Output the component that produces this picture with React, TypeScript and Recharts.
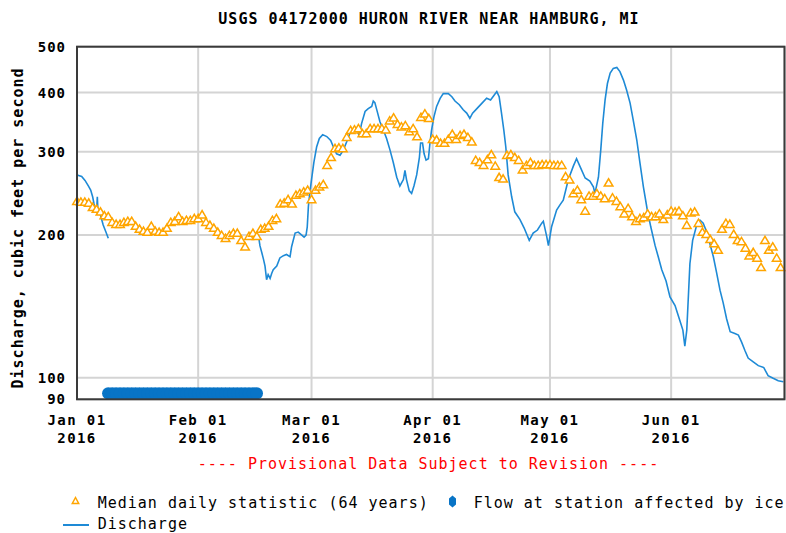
import React from 'react';
import { ComposedChart, Line, Scatter, XAxis, YAxis, CartesianGrid } from 'recharts';

const MONO = '"DejaVu Sans Mono", "Liberation Mono", monospace';

// Median daily statistic (64 years), one value per day starting Jan 01 (day 0)
const medianValues = [
  236, 235, 235, 234, 229, 227, 224, 220, 219, 213,
  211, 211, 213, 214, 214, 209, 206, 204, 203, 209,
  204, 203, 203, 207, 213, 214, 219, 214, 215, 215,
  217, 217, 221, 213, 210, 207, 203, 200, 197, 200,
  202, 202, 195, 189, 199, 202, 199, 206, 207, 209,
  215, 217, 233, 234, 238, 233, 243, 245, 247, 249,
  238, 249, 253, 256, 281, 292, 305, 306, 305, 322,
  333, 334, 336, 328, 328, 336, 336, 336, 336, 334,
  349, 354, 343, 339, 341, 331, 336, 323, 355, 361,
  353, 319, 318, 313, 313, 319, 327, 319, 325, 327,
  322, 315, 288, 285, 281, 289, 296, 280, 265, 263,
  295, 296, 292, 288, 275, 281, 285, 281, 281, 282,
  282, 282, 281, 281, 281, 266, 262, 245, 249, 238,
  225, 242, 242, 245, 242, 239, 258, 240, 236, 230,
  222, 228, 219, 214, 217, 218, 222, 219, 219, 222,
  216, 221, 225, 224, 225, 220, 210, 223, 224, 212,
  203, 201, 196, 192, 186, 206, 212, 211, 201, 195,
  194, 188, 181, 184, 179, 171, 195, 186, 189, 179,
  171,
];

// Discharge (cfs): days since Jan 01 and values; null marks the ice gap
const dischargeDays = [
  0, 1.2, 2.05, 2.9, 3.5, 4.0, 4.35, 4.86, 5.05, 5.2, 5.35, 5.9, 6.3, 6.7, 7.4, 8.0,
  27,
  46.4, 46.8, 47.25, 47.7, 48.1, 48.5, 48.9, 49.4, 49.8, 50.2, 51.1, 51.9, 52.8, 53.6,
  54.5, 54.9, 55.8, 56.6, 57.5, 58.1, 58.6, 58.9, 59.2, 59.6, 60.0, 60.6, 61.3, 62.0,
  62.85, 63.9, 64.9, 65.6, 66.4, 67.3, 68.1, 69.0, 69.8, 70.7, 71.55, 72.2, 72.8, 73.7,
  74.5, 75.4, 75.8, 76.2, 76.8, 77.5, 78.4, 79.2, 80.1, 80.9, 81.8, 82.6, 83.5, 83.9,
  84.3, 85.0, 85.6, 86.2, 86.9, 87.6, 87.9, 88.4, 88.8, 89.3, 89.9, 90.3, 90.7, 91.3,
  92.0, 92.9, 93.7, 95.0, 95.9, 96.7, 97.8, 98.8, 99.7, 100.5, 101.2, 102.3, 103.5,
  104.8, 105.8, 106.7, 107.4, 108.0, 108.6, 109.2, 109.7, 110.3, 111.2, 112.0, 113.3,
  114.4, 115.7, 116.7, 117.8, 118.9, 119.3, 120.2, 120.6, 121.4, 122.7, 123.6, 124.4,
  125.7, 127.0, 127.8, 128.7, 130.0, 131.2, 132.1, 132.5, 133.4, 134.0, 134.5, 135.1,
  135.7, 136.4, 137.2, 138.1, 138.9, 139.8, 140.6, 141.5, 142.3, 143.2, 144.0, 144.9,
  145.9, 146.8, 147.9, 148.7, 149.6, 150.7, 151.7, 153.0, 154.1, 155.0, 155.5, 156.0,
  156.4, 156.8, 157.5, 158.4, 159.4, 160.2, 161.1, 161.9, 162.8, 163.6, 164.5, 165.3,
  166.2, 167.1, 168.3, 169.2, 170.0, 170.9, 171.7, 173.0, 174.3, 175.7, 176.8, 178.1,
  179.4, 180.7,
];
const dischargeValues: (number | null)[] = [
  268, 266, 261, 254, 249, 241, 233, 226, 228, 241, 226, 222, 216, 210, 203, 197,
  null,
  200, 190, 184, 178, 172, 161, 165, 162, 166, 169, 172, 179, 181, 182,
  180, 189, 202, 203, 200, 198, 200, 208, 230, 247, 262, 285, 307, 320,
  326, 323, 317, 307, 297, 295, 302, 315, 328, 334, 333, 325, 344, 365,
  370, 374, 384, 381, 365, 347, 333, 320, 302, 285, 265, 254, 262, 274,
  262, 248, 245, 254, 268, 292, 313, 313, 297, 288, 290, 313, 333, 355,
  374, 389, 398, 398, 392, 384, 377, 368, 362, 353, 362, 370, 379,
  389, 386, 395, 402, 392, 362, 333, 307, 268, 241, 224, 216,
  207, 195, 202, 205, 212, 214, 198, 190, 208, 226, 232, 237,
  262, 280, 290, 279, 264, 260, 253, 245, 265, 303, 344, 386,
  418, 440, 450, 452, 443, 425, 405, 380, 350, 318, 285, 253,
  226, 208, 190, 180, 169, 160, 148, 142, 133, 126, 116.5, 126,
  148, 174, 195, 208, 215, 212, 203, 192, 180, 167, 153, 144,
  133, 125, 124, 123, 119, 114, 110, 108, 106, 105, 101, 99.7,
  98.5, 98,
];

// Days flagged "Flow at station affected by ice"
const iceDays = [
  8, 9, 10, 11, 12, 13, 14, 15, 16, 17, 18, 19, 20, 21, 22, 23, 24, 25, 26,
  27, 28, 29, 30, 31, 32, 33, 34, 35, 36, 37, 38, 39, 40, 41, 42, 43, 44, 45, 46,
];
const iceValue = 92.6;

const xTickDays = [0, 31, 60, 91, 121, 152];
const xTickMonths = ['Jan 01', 'Feb 01', 'Mar 01', 'Apr 01', 'May 01', 'Jun 01'];
const xTickYears = ['2016', '2016', '2016', '2016', '2016', '2016'];
const yTicks = [90, 100, 200, 300, 400, 500];

const TITLE = 'USGS 04172000 HURON RIVER NEAR HAMBURG, MI';
const Y_LABEL = 'Discharge, cubic feet per second';
const NOTE = '---- Provisional Data Subject to Revision ----';
const LEG_MEDIAN = 'Median daily statistic (64 years)';
const LEG_ICE = 'Flow at station affected by ice';
const LEG_Q = 'Discharge';

const ORANGE = '#FFA500';
const BLUE = '#1E8AD6';
const ICE = '#0874C6';

const medianData = medianValues.map((v, i) => ({ day: i, median: v }));
const dischargeData = dischargeDays.map((d, i) => ({ day: d, q: dischargeValues[i] }));
const iceData = iceDays.map((d) => ({ day: d, ice: iceValue }));

const Triangle = (props: any) => {
  const { cx, cy } = props;
  if (cx == null || cy == null) return null;
  return (
    <polygon
      points={`${cx},${cy - 4} ${cx - 4.3},${cy + 3.3} ${cx + 4.3},${cy + 3.3}`}
      fill="#fff"
      stroke={ORANGE}
      strokeWidth={1.5}
    />
  );
};

const IceDot = (props: any) => {
  const { cx, cy } = props;
  if (cx == null || cy == null) return null;
  return <circle cx={cx} cy={cy} r={6.2} fill={ICE} />;
};

const YTick = (props: any) => {
  const { y, payload } = props;
  return (
    <text x={66} y={y + 5} textAnchor="end" fontFamily={MONO} fontWeight="bold" fontSize={14} letterSpacing={1} fill="#000">
      {payload.value}
    </text>
  );
};

const XTick = (props: any) => {
  const { x, payload } = props;
  const idx = xTickDays.indexOf(payload.value);
  if (idx < 0) return null;
  return (
    <g>
      <text x={x} y={425} textAnchor="middle" fontFamily={MONO} fontWeight="bold" fontSize={14} letterSpacing={1.4} fill="#000">
        {xTickMonths[idx]}
      </text>
      <text x={x} y={443} textAnchor="middle" fontFamily={MONO} fontWeight="bold" fontSize={14} letterSpacing={1.4} fill="#000">
        {xTickYears[idx]}
      </text>
    </g>
  );
};

export default function App() {
  return (
    <div style={{ position: 'absolute', left: 0, top: 0, width: 786, height: 533, background: '#fff', overflow: 'hidden' }}>
      <ComposedChart
        width={786}
        height={533}
        margin={{ top: 46.7, right: 1.5, bottom: 73.7, left: 0 }}
      >
        <CartesianGrid stroke="#d4d4d4" strokeWidth={2} />
        <XAxis
          type="number"
          dataKey="day"
          domain={[0, 181]}
          ticks={xTickDays}
          height={60}
          axisLine={false}
          tickLine={false}
          tick={<XTick />}
          interval={0}
        />
        <YAxis
          type="number"
          scale="log"
          domain={[90, 500]}
          ticks={yTicks}
          width={77}
          axisLine={false}
          tickLine={false}
          tick={<YTick />}
          interval={0}
          allowDataOverflow
        />
        <Scatter data={iceData} dataKey="ice" shape={<IceDot />} isAnimationActive={false} />
        <Line
          data={dischargeData}
          dataKey="q"
          type="linear"
          stroke={BLUE}
          strokeWidth={1.6}
          dot={false}
          activeDot={false}
          connectNulls={false}
          isAnimationActive={false}
        />
        <Scatter data={medianData} dataKey="median" shape={<Triangle />} isAnimationActive={false} />
      </ComposedChart>
      <svg width={786} height={533} style={{ position: 'absolute', left: 0, top: 0, pointerEvents: 'none' }}>
        <rect x={77} y={46.7} width={707.5} height={352.6} fill="none" stroke="#3a3a3a" strokeWidth={2} />
        <text x={429} y={24} textAnchor="middle" fontFamily={MONO} fontWeight="bold" fontSize={15} letterSpacing={1} fill="#000">
          {TITLE}
        </text>
        <text
          x={0}
          y={0}
          transform="translate(23,228) rotate(-90)"
          textAnchor="middle"
          fontFamily={MONO}
          fontWeight="bold"
          fontSize={15}
          letterSpacing={1}
          fill="#000"
        >
          {Y_LABEL}
        </text>
        <text x={428.5} y={469} textAnchor="middle" fontFamily={MONO} fontSize={15} letterSpacing={1} fill="#FF0000">
          {NOTE}
        </text>
        <polygon points="75.5,497.5 72.3,503.5 78.7,503.5" fill="#fff" stroke={ORANGE} strokeWidth={1.5} />
        <text x={97.7} y={507.5} fontFamily={MONO} fontSize={15} letterSpacing={1} fill="#000">
          {LEG_MEDIAN}
        </text>
        <polygon points="452.5,495.5 456,498.5 456,504.5 452.5,507.5 449,504.5 449,498.5" fill={ICE} />
        <text x={473.7} y={507.5} fontFamily={MONO} fontSize={15} letterSpacing={1} fill="#000">
          {LEG_ICE}
        </text>
        <line x1={63} y1={525} x2={89} y2={525} stroke={BLUE} strokeWidth={2} />
        <text x={97.7} y={529} fontFamily={MONO} fontSize={15} letterSpacing={1} fill="#000">
          {LEG_Q}
        </text>
      </svg>
    </div>
  );
}
